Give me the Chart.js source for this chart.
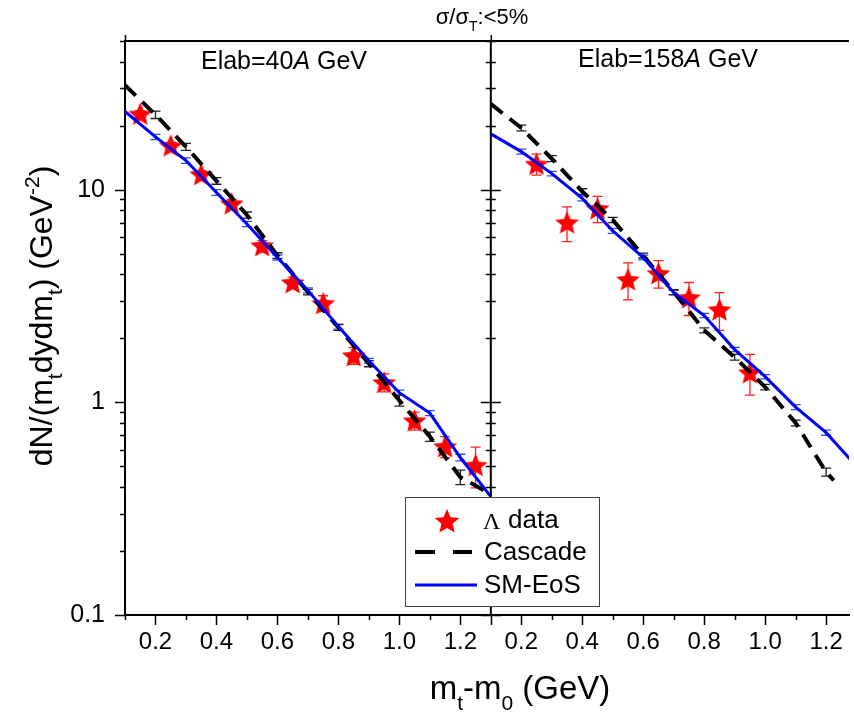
<!DOCTYPE html>
<html>
<head>
<meta charset="utf-8">
<title>Espectros Lambda</title>
<script src="https://cdn.jsdelivr.net/npm/chart.js@4.4.1/dist/chart.umd.min.js"></script>
<style>
  html, body { margin: 0; padding: 0; background: #fff; }
</style>
</head>
<body>
<canvas id="grafico" width="854" height="713"></canvas>
<script>
// Datos del panel izquierdo (Elab = 40A GeV)
var xDatos40 = [0.15, 0.25, 0.35, 0.45, 0.55, 0.65, 0.75, 0.85, 0.95, 1.05, 1.15, 1.25];
var lambda40 = [22.7, 16.1, 11.8, 8.6, 5.46, 3.66, 2.92, 1.66, 1.24, 0.82, 0.62, 0.506];
var errLambda40 = [0.8, 0.6, 0.5, 0.4, 0.3, 0.22, 0.25, 0.15, 0.12, 0.08, 0.07, 0.11];

var xModelo40 = [0.1, 0.2, 0.3, 0.4, 0.5, 0.6, 0.7, 0.8, 0.9, 1.0, 1.1, 1.2, 1.3];
var cascada40 = [31, 22.5, 15.9, 11.0, 7.6, 4.9, 3.3, 2.25, 1.52, 1.02, 0.69, 0.445, 0.37];
var errCascada40 = [0, 0.9, 0.6, 0.4, 0.25, 0.15, 0.1, 0.07, 0.05, 0.06, 0.035, 0.035, 0];
var smEos40 = [23.3, 17.7, 13.7, 9.7, 6.9, 4.8, 3.36, 2.27, 1.57, 1.11, 0.89, 0.55, 0.36];
var errSmEos40 = [0, 0.5, 0.4, 0.3, 0.2, 0.13, 0.09, 0.06, 0.04, 0.03, 0.025, 0.02, 0];

// Datos del panel derecho (Elab = 158A GeV)
var xDatos158 = [0.25, 0.35, 0.45, 0.55, 0.65, 0.75, 0.85, 0.95];
var lambda158 = [13.2, 7.0, 8.15, 3.78, 4.04, 3.11, 2.73, 1.38];
var errLambda158 = [1.5, 1.3, 1.15, 0.75, 0.6, 0.55, 0.55, 0.3];

var xModelo158 = [0.1, 0.2, 0.3, 0.4, 0.5, 0.6, 0.7, 0.8, 0.9, 1.0, 1.1, 1.2, 1.3];
var smEos158 = [18.3, 15.1, 11.9, 9.1, 6.4, 4.8, 3.28, 2.56, 1.77, 1.32, 0.95, 0.72, 0.50];
var errSmEos158 = [0, 0.4, 0.3, 0.25, 0.17, 0.12, 0.08, 0.06, 0.04, 0.03, 0.025, 0.02, 0];
var xCascada158 = [0.1, 0.2, 0.3, 0.4, 0.5, 0.6, 0.7, 0.8, 0.9, 1.0, 1.1, 1.2, 1.225];
var cascada158 = [25.3, 19.5, 14.0, 9.8, 7.2, 4.9, 3.3, 2.18, 1.63, 1.18, 0.80, 0.47, 0.43];
var errCascada158 = [0, 0.6, 0.45, 0.3, 0.2, 0.13, 0.09, 0.06, 0.05, 0.035, 0.025, 0.02, 0];

// Ticks de los ejes
var ticksX = [0.2, 0.4, 0.6, 0.8, 1.0, 1.2];
var ticksY = [0.1, 1, 10];

// El panel derecho se dibuja desplazado sobre el mismo eje x
var desplazamiento = 1.2;
var fuente = "'Liberation Sans', Arial, sans-serif";

function puntos(xs, ys, dx) {
  return xs.map(function (x, i) { return { x: x + dx, y: ys[i] }; });
}

// Imagen de estrella rellena para los datos
function crearEstrella(r) {
  var c = document.createElement('canvas');
  c.width = Math.ceil(r * 2 + 2);
  c.height = Math.ceil(r * 2 + 2);
  var g = c.getContext('2d');
  var cx = c.width / 2, cy = c.height / 2 + r * 0.08;
  g.beginPath();
  for (var i = 0; i < 10; i++) {
    var rr = i % 2 === 0 ? r : r * 0.45;
    var a = -Math.PI / 2 + i * Math.PI / 5;
    g.lineTo(cx + rr * Math.cos(a), cy + rr * Math.sin(a));
  }
  g.closePath();
  g.fillStyle = '#ff0000';
  g.fill();
  return c;
}
var estrella = crearEstrella(12.5);
var estrellaLeyenda = crearEstrella(13);

function fuentePara(tipo, tam) {
  if (tipo === 'sub' || tipo === 'sup') return Math.round(tam * 0.65) + 'px ' + fuente;
  if (tipo === 'it') return 'italic ' + tam + 'px ' + fuente;
  return tam + 'px ' + fuente;
}

// Texto con subíndices, superíndices y cursiva
function textoRico(ctx, partes, x, y, tam, centrado) {
  var ancho = 0;
  partes.forEach(function (p) {
    ctx.font = fuentePara(p[1], tam);
    ancho += ctx.measureText(p[0]).width;
  });
  var cx = centrado ? x - ancho / 2 : x;
  ctx.textAlign = 'left';
  ctx.textBaseline = 'alphabetic';
  partes.forEach(function (p) {
    ctx.font = fuentePara(p[1], tam);
    var dy = p[1] === 'sub' ? tam * 0.32 : (p[1] === 'sup' ? -tam * 0.42 : 0);
    ctx.fillText(p[0], cx, y + dy);
    cx += ctx.measureText(p[0]).width;
  });
}

var pluginPanel = {
  id: 'panel',
  // Barras de error antes de las curvas
  beforeDatasetsDraw: function (chart) {
    var ctx = chart.ctx, area = chart.chartArea, ey = chart.scales.y;
    ctx.save();
    ctx.beginPath();
    ctx.rect(area.left, area.top, area.right - area.left, area.bottom - area.top);
    ctx.clip();
    chart.data.datasets.forEach(function (ds, i) {
      if (!ds.errores) return;
      var meta = chart.getDatasetMeta(i);
      ctx.strokeStyle = ds.colorError;
      ctx.lineWidth = 1.3;
      meta.data.forEach(function (p, j) {
        var e = ds.errores[j];
        if (!e) return;
        var v = ds.data[j].y;
        var y1 = ey.getPixelForValue(v + e), y2 = ey.getPixelForValue(v - e);
        var c = ds.cap;
        ctx.beginPath();
        ctx.moveTo(p.x, y1); ctx.lineTo(p.x, y2);
        ctx.moveTo(p.x - c, y1); ctx.lineTo(p.x + c, y1);
        ctx.moveTo(p.x - c, y2); ctx.lineTo(p.x + c, y2);
        ctx.stroke();
      });
    });
    ctx.restore();
  },
  afterDraw: function (chart) {
    var ctx = chart.ctx, area = chart.chartArea;
    var ex = chart.scales.x, ey = chart.scales.y;
    var sep = ex.getPixelForValue(1.3);
    ctx.save();
    ctx.strokeStyle = '#000';
    ctx.fillStyle = '#000';

    // Borde superior y separador de paneles
    ctx.lineWidth = 2;
    ctx.beginPath();
    ctx.moveTo(area.left, area.top); ctx.lineTo(area.right, area.top);
    ctx.moveTo(sep, area.top); ctx.lineTo(sep, area.bottom);
    ctx.stroke();

    // Ticks del eje y (mayores y menores)
    ctx.lineWidth = 1.5;
    ctx.beginPath();
    [0.1, 1, 10].forEach(function (dec) {
      for (var m = 1; m <= 9; m++) {
        var v = dec * m;
        if (v > ey.max + 1e-9) continue;
        var py = Math.round(ey.getPixelForValue(v)) + 0.5;
        var largo = m === 1 ? 10 : 5;
        ctx.moveTo(area.left - largo, py); ctx.lineTo(area.left, py);
        ctx.moveTo(sep - largo, py); ctx.lineTo(sep + largo, py);
      }
    });
    // Ticks del eje x
    for (var k = 1; k <= 24; k++) {
      var px = Math.round(ex.getPixelForValue(k / 10)) + 0.5;
      var etiqueta = k <= 13 ? k : k - 12;
      var largoX = (etiqueta % 2 === 0 || k === 13) ? 10 : 5;
      ctx.moveTo(px, area.bottom); ctx.lineTo(px, area.bottom + largoX);
    }
    ctx.moveTo(area.left + 0.5, area.top); ctx.lineTo(area.left + 0.5, area.top - 6);
    ctx.moveTo(sep + 0.5, area.top); ctx.lineTo(sep + 0.5, area.top - 6);
    ctx.stroke();

    // Títulos
    textoRico(ctx, [['σ/σ', null], ['T', 'sub'], [':<5%', null]], 482, 24, 22, true);
    textoRico(ctx, [['Elab=40', null], ['A', 'it'], [' GeV', null]], 284, 69, 25, true);
    textoRico(ctx, [['Elab=158', null], ['A', 'it'], [' GeV', null]], 668, 67, 25, true);
    textoRico(ctx, [['m', null], ['t', 'sub'], ['-m', null], ['0', 'sub'], [' (GeV)', null]], 520, 699, 33, true);

    ctx.save();
    ctx.translate(52, 316);
    ctx.rotate(-Math.PI / 2);
    textoRico(ctx, [['dN/(m', null], ['t', 'sub'], ['dydm', null], ['t', 'sub'],
      [') (GeV', null], ['-2', 'sup'], [')', null]], 0, 0, 32, true);
    ctx.restore();

    // Leyenda
    var lx = 405, ly = 497, lw = 194, lh = 109;
    ctx.fillStyle = '#fff';
    ctx.fillRect(lx, ly, lw, lh);
    ctx.strokeStyle = '#444';
    ctx.lineWidth = 1;
    ctx.strokeRect(lx + 0.5, ly + 0.5, lw, lh);

    ctx.drawImage(estrellaLeyenda, 447 - estrellaLeyenda.width / 2, 521 - estrellaLeyenda.height / 2);
    ctx.lineWidth = 4;
    ctx.strokeStyle = '#000';
    ctx.beginPath();
    ctx.moveTo(415, 552); ctx.lineTo(435, 552);
    ctx.moveTo(453, 552); ctx.lineTo(472, 552);
    ctx.stroke();
    ctx.lineWidth = 3;
    ctx.strokeStyle = '#0000ff';
    ctx.beginPath();
    ctx.moveTo(415, 585); ctx.lineTo(477, 585);
    ctx.stroke();

    ctx.fillStyle = '#000';
    ctx.textAlign = 'left';
    ctx.textBaseline = 'middle';
    ctx.font = '24px ' + "'Liberation Serif', serif";
    ctx.fillText('Λ', 483, 523);
    ctx.font = '26px ' + fuente;
    ctx.fillText('data', 508, 521);
    ctx.fillText('Cascade', 484, 553);
    ctx.fillText('SM-EoS', 484, 586);
    ctx.restore();
  }
};

var datos = {
  datasets: [
    { label: 'SM-EoS', data: puntos(xModelo40, smEos40, 0), borderColor: '#0000ff', borderWidth: 3,
      pointRadius: 0, errores: errSmEos40, colorError: '#3050f0', cap: 5 },
    { label: 'Cascade', data: puntos(xModelo40, cascada40, 0), borderColor: '#000', borderWidth: 4,
      borderDash: [15, 9], pointRadius: 0, errores: errCascada40, colorError: '#222', cap: 5 },
    { label: 'SM-EoS', data: puntos(xModelo158, smEos158, desplazamiento), borderColor: '#0000ff', borderWidth: 3,
      pointRadius: 0, errores: errSmEos158, colorError: '#3050f0', cap: 5 },
    { label: 'Cascade', data: puntos(xCascada158, cascada158, desplazamiento), borderColor: '#000', borderWidth: 4,
      borderDash: [15, 9], pointRadius: 0, errores: errCascada158, colorError: '#222', cap: 5 },
    { label: 'Λ data', data: puntos(xDatos40, lambda40, 0), showLine: false, pointStyle: estrella,
      errores: errLambda40, colorError: '#ff2020', cap: 5 },
    { label: 'Λ data', data: puntos(xDatos158, lambda158, desplazamiento), showLine: false, pointStyle: estrella,
      errores: errLambda158, colorError: '#ff2020', cap: 5 }
  ]
};

var configuracion = {
  type: 'line',
  data: datos,
  options: {
    responsive: false,
    animation: false,
    devicePixelRatio: 1,
    layout: { padding: { top: 41, left: 0, right: 0, bottom: 0 } },
    elements: { line: { tension: 0 } },
    plugins: { legend: { display: false }, tooltip: { enabled: false } },
    scales: {
      x: {
        type: 'linear',
        min: 0.1,
        max: 2.475,
        afterFit: function (s) { s.height = 98; },
        afterBuildTicks: function (s) {
          var lista = [];
          ticksX.forEach(function (v) { lista.push({ value: v }); });
          ticksX.forEach(function (v) { lista.push({ value: v + desplazamiento }); });
          s.ticks = lista;
        },
        grid: { drawOnChartArea: false, color: 'rgba(0,0,0,0)', tickLength: 10 },
        border: { display: true, color: '#000', width: 2 },
        ticks: {
          autoSkip: false,
          maxRotation: 0,
          padding: 3,
          color: '#000',
          font: { family: fuente, size: 24 },
          callback: function (v) {
            var k = Math.round(v * 10);
            return (k <= 13 ? k / 10 : (k - 12) / 10).toFixed(1);
          }
        }
      },
      y: {
        type: 'logarithmic',
        min: 0.1,
        max: 50,
        afterFit: function (s) { s.width = 125; },
        afterBuildTicks: function (s) {
          s.ticks = ticksY.map(function (v) { return { value: v }; });
        },
        grid: { drawOnChartArea: false, color: 'rgba(0,0,0,0)', tickLength: 10 },
        border: { display: true, color: '#000', width: 2 },
        ticks: {
          padding: 10,
          color: '#000',
          font: { family: fuente, size: 25 },
          callback: function (v) { return String(v); }
        }
      }
    }
  },
  plugins: [pluginPanel]
};

var ctxGrafico = document.getElementById('grafico').getContext('2d');
new Chart(ctxGrafico, configuracion);
</script>
</body>
</html>
